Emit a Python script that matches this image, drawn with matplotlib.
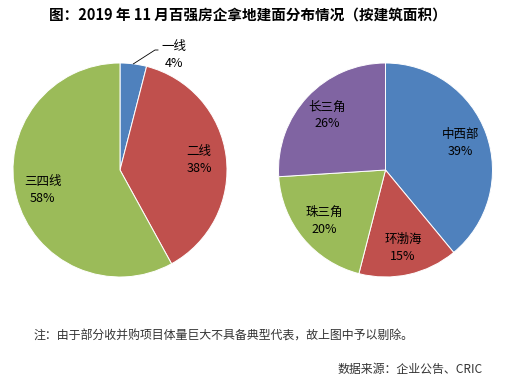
import numpy as np
import matplotlib
matplotlib.use('Agg')
import matplotlib.pyplot as plt

plt.rcParams['font.family'] = ['Noto Sans CJK SC', 'DejaVu Sans']

# 数据
title = '图：2019 年 11 月百强房企拿地建面分布情况（按建筑面积）'
left_names = ['一线', '二线', '三四线']
left_values = [4, 38, 58]
right_names = ['中西部', '环渤海', '珠三角', '长三角']
right_values = [39, 15, 20, 26]
note = '注：由于部分收并购项目体量巨大不具备典型代表，故上图中予以剔除。'
source = '数据来源：企业公告、CRIC'

blue, red, green, purple = '#4F81BD', '#C0504D', '#9BBB59', '#8064A2'
W, H = 508, 382

fig = plt.figure(figsize=(W / 100, H / 100), dpi=100)
ax = fig.add_axes([0, 0, 1, 1])

R = 107
left_c = (120, H - 170)
right_c = (385.5, H - 170)

def draw_pie(values, names, colors, center, skip_first=False):
    labels = [f'{n}\n{v}%' for n, v in zip(names, values)]
    if skip_first:
        labels[0] = ''
    wedges, texts = ax.pie(values, labels=labels, colors=colors, startangle=90,
                           counterclock=False, center=center, radius=R,
                           labeldistance=0.745, frame=True,
                           wedgeprops=dict(edgecolor='white', linewidth=0.7),
                           textprops=dict(fontsize=9, color='black'))
    for t in texts:
        t.set_ha('center')
        t.set_va('center')
        t.set_multialignment('center')
        t.set_linespacing(1.4)
    return wedges

lw = draw_pie(left_values, left_names, [blue, red, green], left_c, skip_first=True)
draw_pie(right_values, right_names, [blue, red, green, purple], right_c)

# 一线 外部标签 + 引导线
w0 = lw[0]
mid = np.deg2rad((w0.theta1 + w0.theta2) / 2)
ex, ey = left_c[0] + R * np.cos(mid), left_c[1] + R * np.sin(mid)
ax.plot([ex, 155, 158], [ey, H - 50, H - 50], color='black', lw=0.6)
ax.text(174, H - 55, f'{left_names[0]}\n{left_values[0]}%', fontsize=9,
        ha='center', va='center', multialignment='center', linespacing=1.4)

ax.set_xlim(0, W)
ax.set_ylim(0, H)
ax.set_aspect('equal')
ax.axis('off')

ax.text(W / 2 - 6, H - 16, title, fontsize=10.5, fontweight='bold',
        ha='center', va='center')
ax.text(33, H - 336, note, fontsize=8.6, color='#333333', ha='left', va='center')
ax.text(483, H - 369, source, fontsize=8.6, color='#333333', ha='right', va='center')

fig.savefig('out.png', dpi=100, facecolor='white')
